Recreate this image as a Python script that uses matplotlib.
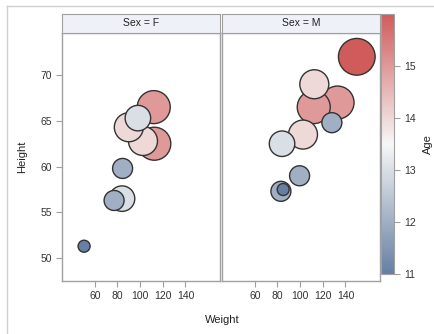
import matplotlib
matplotlib.use("Agg")
import matplotlib.pyplot as plt
import numpy as np
from matplotlib.colors import LinearSegmentedColormap, Normalize
from matplotlib.patches import Rectangle
from matplotlib.lines import Line2D

plt.rcParams['font.family'] = ['Liberation Sans', 'DejaVu Sans']

# sashelp.class
sex = ['M', 'F', 'F', 'F', 'M', 'M', 'F', 'F', 'M', 'M', 'F', 'F', 'F', 'F', 'M', 'M', 'M', 'M', 'M']
age = [14, 13, 13, 14, 14, 12, 12, 15, 13, 12, 11, 14, 12, 15, 16, 12, 15, 11, 15]
height = [69.0, 56.5, 65.3, 62.8, 63.5, 57.3, 59.8, 62.5, 62.5, 59.0, 51.3, 64.3, 56.3, 66.5, 72.0,
          64.8, 67.0, 57.5, 66.5]
weight = [112.5, 84.0, 98.0, 102.5, 102.5, 83.0, 84.5, 112.5, 84.0, 99.5, 50.5, 90.0, 77.0, 112.0,
          150.0, 128.0, 133.0, 85.0, 112.0]
panels = ['F', 'M']
xticks = [60, 80, 100, 120, 140]
yticks = [50, 55, 60, 65, 70]
cticks = [11, 12, 13, 14, 15]

# bubble diameter in pixels for each age
diam_px = {11: 12, 12: 20, 13: 25.5, 14: 29, 15: 33, 16: 36.7}

cmap = LinearSegmentedColormap.from_list('three', ['#667fa2', '#f7f7f7', '#d05b5b'])
norm = Normalize(11, 16)
gray = '#a0a0a0'

fig = plt.figure(figsize=(4.35, 3.34), dpi=100)
W, H = 435.0, 334.0

def fx(px):
    return px / W

def fy(py):
    return 1 - py / H

# outer frame
fig.add_artist(Line2D([fx(7), fx(7)], [0, fy(6)], color='#d0d0d0', lw=1))
fig.add_artist(Line2D([fx(7), 1], [fy(6), fy(6)], color='#d0d0d0', lw=1))

lefts = [62, 222]
pw = 158
for i, s in enumerate(panels):
    ax = fig.add_axes([fx(lefts[i]), fy(281), pw / W, (281 - 33) / H])
    idx = [k for k in range(len(sex)) if sex[k] == s]
    # largest bubbles first so the small ones stay on top
    idx = sorted(idx, key=lambda k: -age[k])
    x = np.array([weight[k] for k in idx])
    y = np.array([height[k] for k in idx])
    a = np.array([age[k] for k in idx])
    sz = np.array([(diam_px[v] * 0.72) ** 2 for v in a])
    ax.scatter(x, y, s=sz, c=a, cmap=cmap, norm=norm, edgecolors='#333333', linewidths=1.0, zorder=3)
    ax.set_xlim(31, 170.5)
    ax.set_ylim(47.5, 74.6)
    ax.set_xticks(xticks)
    ax.set_yticks(yticks)
    for sp in ax.spines.values():
        sp.set_color(gray)
        sp.set_linewidth(1.0)
    ax.tick_params(colors=gray, labelcolor='#333333', labelsize=7.5, length=4, width=0.8)
    if i == 1:
        ax.tick_params(axis='y', left=False, labelleft=False)
    # header cell
    hx = fig.add_axes([fx(lefts[i]), fy(33), pw / W, 19 / H])
    hx.set_xticks([])
    hx.set_yticks([])
    hx.set_facecolor('#eef2f8')
    for sp in hx.spines.values():
        sp.set_color(gray)
        sp.set_linewidth(0.8)
    hx.text(0.5, 0.5, 'Sex = ' + s, ha='center', va='center', fontsize=7.5, color='#222222',
            transform=hx.transAxes)

# colour bar
cax = fig.add_axes([fx(381), fy(274), 13 / W, (274 - 14) / H])
sm = plt.cm.ScalarMappable(norm=norm, cmap=cmap)
cb = fig.colorbar(sm, cax=cax, ticks=cticks)
cb.outline.set_edgecolor(gray)
cax.tick_params(colors=gray, labelcolor='#333333', labelsize=7.5, length=4, width=0.8)
fig.text(fx(428), fy(144), 'Age', rotation=90, ha='center', va='center', fontsize=8, color='#222222')

fig.text(fx(22), fy(157), 'Height', rotation=90, ha='center', va='center', fontsize=8, color='#222222')
fig.text(fx(222), fy(320), 'Weight', ha='center', va='center', fontsize=8, color='#222222')

fig.savefig('out.png', dpi=100)
